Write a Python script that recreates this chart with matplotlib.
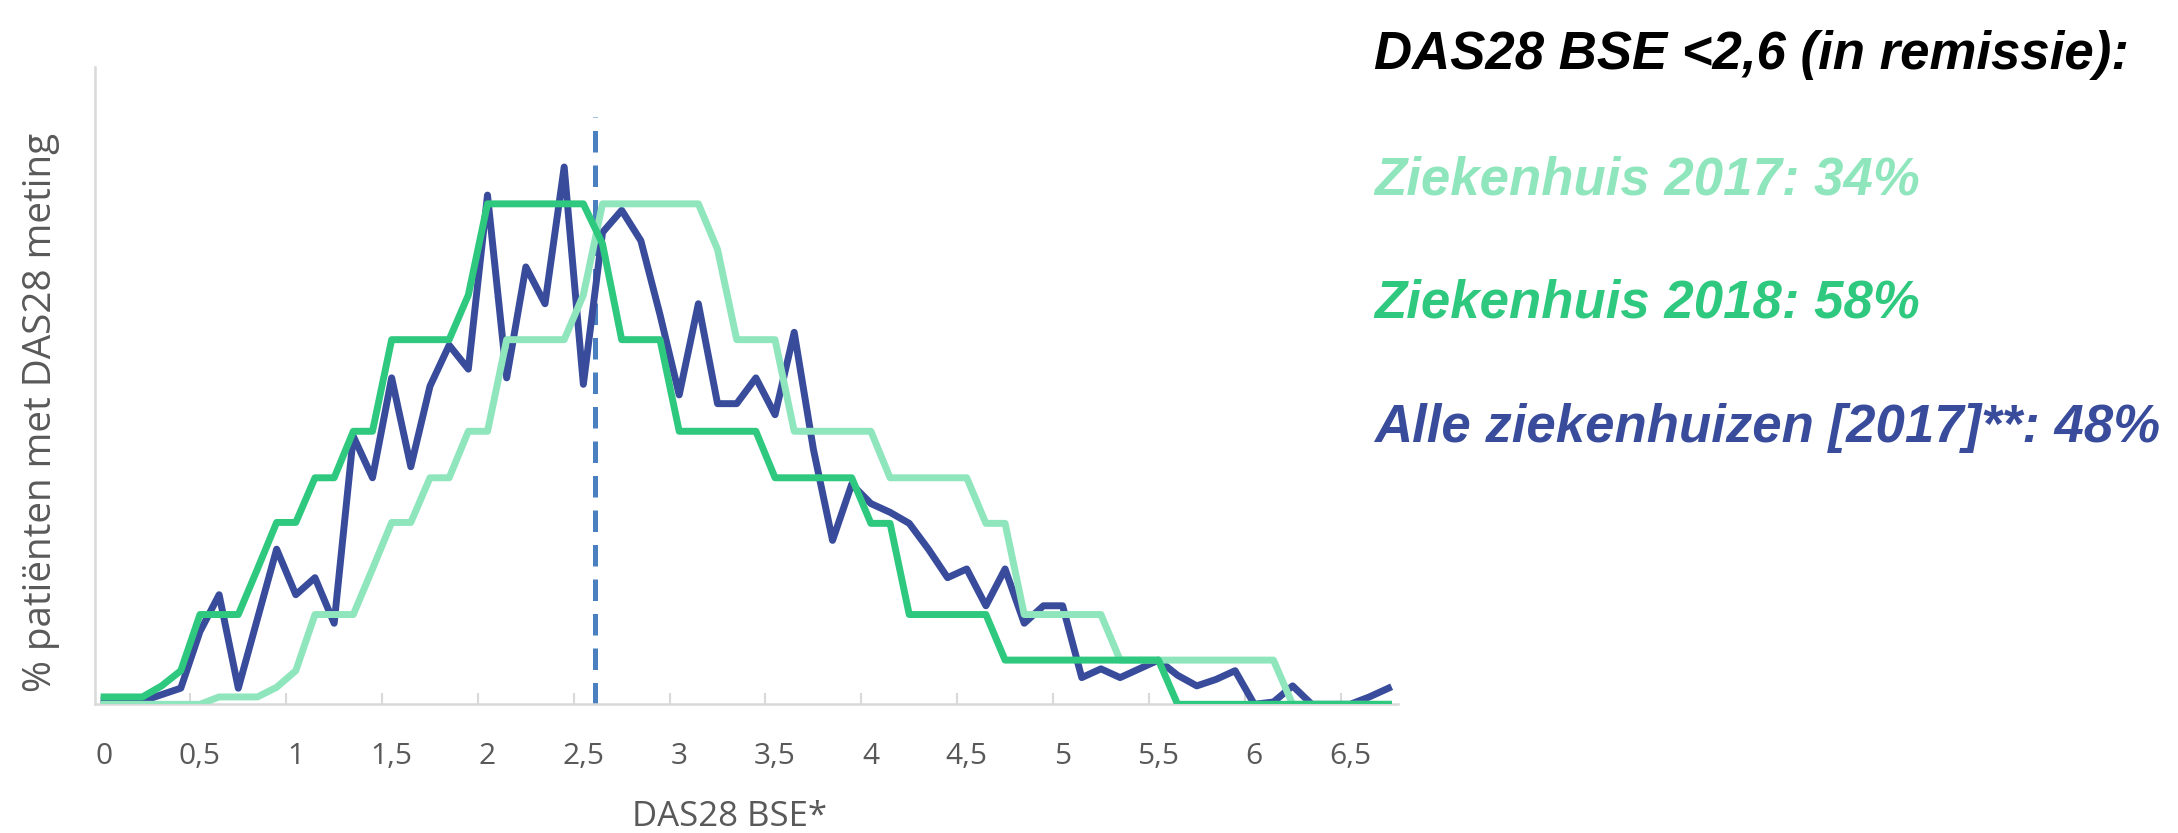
import matplotlib
matplotlib.use('Agg')
import matplotlib.pyplot as plt

# DAS28 BSE scores, 0.0 .. 6.7 in steps of 0.1
das28 = [round(i * 0.1, 1) for i in range(68)]

# % patients per score
alle_2017 = [0.09, 0.07, 0.07, 0.21, 0.35, 1.58, 2.38, 0.35, 1.86, 3.37,
             2.38, 2.75, 1.76, 5.82, 4.92, 7.09, 5.16, 6.91, 7.80, 7.28,
             11.06, 7.09, 9.50, 8.70, 11.67, 6.95, 10.25, 10.73, 10.07, 8.46,
             6.72, 8.70, 6.53, 6.53, 7.09, 6.29, 8.08, 5.54, 3.56, 4.78,
             4.36, 4.17, 3.93, 3.37, 2.75, 2.94, 2.14, 2.94, 1.76, 2.14,
             2.14, 0.58, 0.77, 0.58, 0.77, 0.96, 0.63, 0.40, 0.54, 0.73,
             0.0, 0.05, 0.40, 0.0, 0.0, 0.0, 0.16, 0.35]

zh_2018 = [0.16, 0.16, 0.16, 0.40, 0.73, 1.95, 1.95, 1.95, 2.94, 3.95,
           3.95, 4.92, 4.92, 5.93, 5.93, 7.92, 7.92, 7.92, 7.92, 8.89,
           10.87, 10.87, 10.87, 10.87, 10.87, 10.87, 10.0, 7.92, 7.92, 7.92,
           5.93, 5.93, 5.93, 5.93, 5.93, 4.92, 4.92, 4.92, 4.92, 4.92,
           3.93, 3.93, 1.95, 1.95, 1.95, 1.95, 1.95, 0.96, 0.96, 0.96,
           0.96, 0.96, 0.96, 0.96, 0.96, 0.96, 0.0, 0.0, 0.0, 0.0,
           0.0, 0.0, 0.0, 0.0, 0.0, 0.0, 0.0, 0.0]

zh_2017 = [0.0, 0.0, 0.0, 0.0, 0.0, 0.0, 0.16, 0.16, 0.16, 0.37,
           0.73, 1.95, 1.95, 1.95, 2.94, 3.95, 3.95, 4.92, 4.92, 5.93,
           5.93, 7.92, 7.92, 7.92, 7.92, 8.89, 10.87, 10.87, 10.87, 10.87,
           10.87, 10.87, 9.88, 7.92, 7.92, 7.92, 5.93, 5.93, 5.93, 5.93,
           5.93, 4.92, 4.92, 4.92, 4.92, 4.92, 3.93, 3.93, 1.95, 1.95,
           1.95, 1.95, 1.95, 0.96, 0.96, 0.96, 0.96, 0.96, 0.96, 0.96,
           0.96, 0.96, 0.0, 0.0, 0.0, 0.0, 0.0, 0.0]

remissie_grens = 2.56
tick_pos = [i * 0.5 for i in range(14)]
tick_labels = ['0', '0,5', '1', '1,5', '2', '2,5', '3', '3,5', '4', '4,5',
               '5', '5,5', '6', '6,5']

legend_lines = ['DAS28 BSE <2,6 (in remissie):',
                'Ziekenhuis 2017: 34%',
                'Ziekenhuis 2018: 58%',
                'Alle ziekenhuizen [2017]**: 48%']

BLUE = '#394c9c'
GREEN = '#2ec97e'
LIGHT = '#8fe6bd'
DASH = '#4a7fc0'
GREY = '#595959'

fig = plt.figure(figsize=(21.78, 8.33), dpi=100)
ax = fig.add_axes([0.0434, 0.1545, 0.5985, 0.7655])

ax.plot([remissie_grens, remissie_grens], [0, 12.75], color=DASH, lw=3.6,
        dashes=(4.3, 2.6), zorder=1)
ax.plot(das28, alle_2017, color=BLUE, lw=5, zorder=2)
ax.plot(das28, zh_2017, color=LIGHT, lw=5, zorder=3)
ax.plot(das28, zh_2018, color=GREEN, lw=5, zorder=4)

ax.set_xlim(-0.05, 6.75)
ax.set_ylim(0, 13.85)

for side in ['top', 'right']:
    ax.spines[side].set_visible(False)
for side in ['left', 'bottom']:
    ax.spines[side].set_color('#d9d9d9')
    ax.spines[side].set_linewidth(1.8)

ax.set_yticks([])
ax.set_xticks(tick_pos)
ax.set_xticklabels(tick_labels, color=GREY, family='Open Sans', fontsize=21.5)
ax.set_xticks([p - 0.05 for p in tick_pos[1:]], minor=True)
ax.tick_params(axis='x', which='major', length=0, pad=27)
ax.tick_params(axis='x', which='minor', direction='in', length=8,
               width=1.5, color='#d9d9d9')

fig.text(0.335, 0.008, 'DAS28 BSE*', color=GREY, family='Open Sans',
         fontsize=25, ha='center', va='baseline')
fig.text(0.019, 0.505, '% patiënten met DAS28 meting', rotation=90,
         ha='center', va='center', family='Open Sans', color=GREY, fontsize=27.8)

kleuren = ['black', LIGHT, GREEN, BLUE]
ys = [0.917, 0.767, 0.619, 0.469]
for txt, kl, y in zip(legend_lines, kleuren, ys):
    fig.text(0.631, y, txt, color=kl, fontsize=38, family='Liberation Sans',
             fontweight='bold', fontstyle='italic', va='baseline', ha='left')

fig.savefig('out.png', dpi=100)
